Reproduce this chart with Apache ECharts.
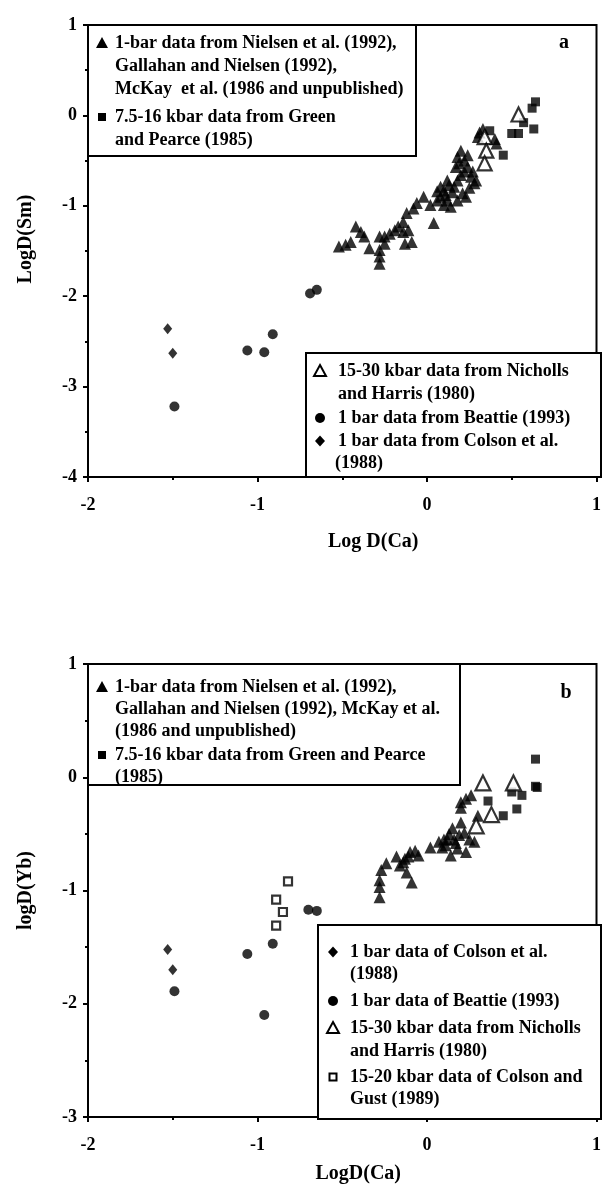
<!DOCTYPE html>
<html>
<head>
<meta charset="utf-8">
<script src="https://cdn.jsdelivr.net/npm/echarts@6/dist/echarts.min.js"></script>
<style>
  html, body { margin: 0; padding: 0; background: #fff; }
  #chart { width: 604px; height: 1185px; }
</style>
</head>
<body>
<div id="chart"></div>
<script>
// axis ranges
const xRange = [-2, 1]
const ySmRange = [-4, 1]
const yYbRange = [-3, 1]

// panel a : LogD(Sm) vs Log D(Ca)
const smNielsen = [
  [-0.52, -1.45], [-0.48, -1.43], [-0.45, -1.40], [-0.42, -1.23], [-0.39, -1.29], [-0.37, -1.34],
  [-0.34, -1.47], [-0.28, -1.34], [-0.28, -1.49], [-0.28, -1.56], [-0.28, -1.64], [-0.25, -1.34],
  [-0.25, -1.42], [-0.22, -1.31], [-0.19, -1.27], [-0.17, -1.23], [-0.14, -1.29], [-0.14, -1.18],
  [-0.13, -1.42], [-0.11, -1.27], [-0.09, -1.40], [-0.12, -1.08], [-0.08, -1.03], [-0.06, -0.97],
  [-0.02, -0.90], [0.02, -0.99], [0.04, -1.19], [0.06, -0.94], [0.06, -0.84], [0.08, -0.90],
  [0.08, -0.79], [0.10, -0.83], [0.10, -0.99], [0.11, -0.88], [0.12, -0.94], [0.12, -0.72],
  [0.13, -0.77], [0.14, -1.01], [0.15, -0.85], [0.16, -0.79], [0.18, -0.72], [0.18, -0.94],
  [0.17, -0.57], [0.18, -0.46], [0.19, -0.53], [0.20, -0.66], [0.20, -0.39], [0.21, -0.86],
  [0.22, -0.50], [0.22, -0.62], [0.23, -0.90], [0.24, -0.57], [0.24, -0.44], [0.25, -0.80],
  [0.26, -0.68], [0.27, -0.62], [0.28, -0.75], [0.29, -0.72], [0.30, -0.24], [0.31, -0.19],
  [0.33, -0.15], [0.40, -0.26], [0.41, -0.31]
]
const smGreen = [
  [0.64, 0.15], [0.62, 0.08], [0.63, -0.15], [0.57, -0.08], [0.50, -0.20], [0.54, -0.20],
  [0.45, -0.44], [0.37, -0.17]
]
const smNicholls = [[0.54, 0.01], [0.34, -0.24], [0.35, -0.39], [0.34, -0.53]]
const smBeattie = [[-1.49, -3.22], [-1.06, -2.60], [-0.96, -2.62], [-0.91, -2.42], [-0.69, -1.97], [-0.65, -1.93]]
const smColson = [[-1.53, -2.36], [-1.50, -2.63]]

// panel b : logD(Yb) vs LogD(Ca)
const ybNielsen = [
  [-0.28, -1.06], [-0.28, -0.97], [-0.28, -0.91], [-0.27, -0.82], [-0.24, -0.76], [-0.18, -0.70],
  [-0.16, -0.78], [-0.14, -0.75], [-0.13, -0.72], [-0.12, -0.84], [-0.11, -0.70], [-0.09, -0.93],
  [-0.10, -0.66], [-0.07, -0.65], [-0.05, -0.69], [0.02, -0.62], [0.07, -0.57], [0.09, -0.62],
  [0.10, -0.55], [0.11, -0.60], [0.12, -0.55], [0.13, -0.50], [0.14, -0.69], [0.15, -0.45],
  [0.16, -0.55], [0.17, -0.58], [0.18, -0.63], [0.19, -0.51], [0.20, -0.40], [0.20, -0.27],
  [0.20, -0.22], [0.22, -0.49], [0.23, -0.66], [0.23, -0.19], [0.25, -0.55], [0.26, -0.16],
  [0.28, -0.57], [0.30, -0.34]
]
const ybGreen = [
  [0.64, 0.16], [0.64, -0.08], [0.65, -0.09], [0.56, -0.16], [0.50, -0.13], [0.53, -0.28],
  [0.45, -0.34], [0.36, -0.21]
]
const ybNicholls = [[0.33, -0.05], [0.51, -0.05], [0.38, -0.33], [0.29, -0.43]]
const ybBeattie = [[-1.49, -1.89], [-1.06, -1.56], [-0.91, -1.47], [-0.96, -2.10], [-0.70, -1.17], [-0.65, -1.18]]
const ybColson = [[-1.53, -1.52], [-1.50, -1.70]]
const ybColsonGust = [[-0.82, -0.92], [-0.89, -1.08], [-0.85, -1.19], [-0.89, -1.31]]

const FONT = '"Liberation Serif", "Times New Roman", serif'

const chart = echarts.init(document.getElementById('chart'))

function xAxisOf(gridIndex, name, gap, shift) {
  return {
    gridIndex,
    type: 'value',
    min: xRange[0],
    max: xRange[1],
    interval: 1,
    name,
    nameLocation: 'middle',
    nameGap: gap,
    nameTextStyle: { color: '#000', fontFamily: FONT, fontWeight: 'bold', fontSize: 20, padding: [0, 0, 0, shift] },
    axisLine: { onZero: false, lineStyle: { color: '#000', width: 2 } },
    axisTick: { length: 5, lineStyle: { color: '#000', width: 2 } },
    minorTick: { show: true, splitNumber: 2, length: 3, lineStyle: { color: '#000', width: 2 } },
    splitLine: { show: false },
    axisLabel: { color: '#000', fontFamily: FONT, fontWeight: 'bold', fontSize: 18, margin: 19 }
  }
}

function yAxisOf(gridIndex, range, name, shift) {
  return {
    gridIndex,
    type: 'value',
    min: range[0],
    max: range[1],
    interval: 1,
    name,
    nameLocation: 'middle',
    nameGap: 52,
    nameTextStyle: { color: '#000', fontFamily: FONT, fontWeight: 'bold', fontSize: 20, padding: [0, 0, 0, shift] },
    axisLine: { onZero: false, lineStyle: { color: '#000', width: 2 } },
    axisTick: { length: 5, lineStyle: { color: '#000', width: 2 } },
    minorTick: { show: true, splitNumber: 2, length: 3, lineStyle: { color: '#000', width: 2 } },
    splitLine: { show: false },
    axisLabel: { color: '#000', fontFamily: FONT, fontWeight: 'bold', fontSize: 18, margin: 11 }
  }
}

function scatter(data, idx, symbol, size, open, z) {
  return {
    type: 'scatter',
    xAxisIndex: idx,
    yAxisIndex: idx,
    data,
    symbol,
    symbolSize: size,
    z,
    itemStyle: open
      ? { color: '#fff', borderColor: '#000', borderWidth: 2.2 }
      : { color: '#000' }
  }
}

// legend helpers (decoration only)
function markerShape(kind, cx, cy) {
  if (kind === 'tri' || kind === 'otri') {
    const s = 6
    return {
      type: 'polygon',
      shape: { points: [[cx, cy - s], [cx + s, cy + s - 1], [cx - s, cy + s - 1]] },
      style: kind === 'tri' ? { fill: '#000' } : { fill: '#fff', stroke: '#000', lineWidth: 2 }
    }
  }
  if (kind === 'sq') return { type: 'rect', shape: { x: cx - 4, y: cy - 4, width: 8, height: 8 }, style: { fill: '#000' } }
  if (kind === 'osq') return { type: 'rect', shape: { x: cx - 3.5, y: cy - 3.5, width: 7, height: 7 }, style: { fill: '#fff', stroke: '#000', lineWidth: 2 } }
  if (kind === 'dot') return { type: 'circle', shape: { cx, cy, r: 5 }, style: { fill: '#000' } }
  return {
    type: 'polygon',
    shape: { points: [[cx, cy - 5.5], [cx + 5, cy], [cx, cy + 5.5], [cx - 5, cy]] },
    style: { fill: '#000' }
  }
}

function legendBox(x, y, w, h, mx, tx, entries) {
  const els = [{
    type: 'rect',
    shape: { x, y, width: w, height: h },
    style: { fill: '#fff', stroke: '#000', lineWidth: 2 }
  }]
  entries.forEach((e) => {
    els.push(markerShape(e.kind, mx, e.lines[0][1]))
    e.lines.forEach(([t, ly], i) => {
      els.push({
        type: 'text',
        style: {
          text: t,
          x: i === 0 ? tx : (e.indent !== undefined ? e.indent : tx),
          y: ly,
          verticalAlign: 'middle',
          fill: '#000',
          font: 'bold 18px ' + FONT
        }
      })
    })
  })
  return els
}

const graphics = [].concat(
  legendBox(88, 25, 328, 131, 102, 115, [
    { kind: 'tri', lines: [['1-bar data from Nielsen et al. (1992),', 43], ['Gallahan and Nielsen (1992),', 66], ['McKay  et al. (1986 and unpublished)', 89]] },
    { kind: 'sq', lines: [['7.5-16 kbar data from Green', 117], ['and Pearce (1985)', 140]] }
  ]),
  legendBox(306, 353, 295, 124, 320, 338, [
    { kind: 'otri', lines: [['15-30 kbar data from Nicholls', 371], ['and Harris (1980)', 394]] },
    { kind: 'dot', lines: [['1 bar data from Beattie (1993)', 418]] },
    { kind: 'dia', indent: 335, lines: [['1 bar data from Colson et al.', 441], ['(1988)', 463]] }
  ]),
  legendBox(88, 664, 372, 121, 102, 115, [
    { kind: 'tri', lines: [['1-bar data from Nielsen et al. (1992),', 687], ['Gallahan and Nielsen (1992), McKay et al.', 709], ['(1986 and unpublished)', 731]] },
    { kind: 'sq', lines: [['7.5-16 kbar data from Green and Pearce', 755], ['(1985)', 777]] }
  ]),
  legendBox(318, 925, 283, 194, 333, 350, [
    { kind: 'dia', lines: [['1 bar data of Colson et al.', 952], ['(1988)', 974]] },
    { kind: 'dot', lines: [['1 bar data of Beattie (1993)', 1001]] },
    { kind: 'otri', lines: [['15-30 kbar data from Nicholls', 1028], ['and Harris (1980)', 1051]] },
    { kind: 'osq', lines: [['15-20 kbar data of Colson and', 1077], ['Gust (1989)', 1099]] }
  ]),
  [
    { type: 'text', style: { text: 'a', x: 564, y: 43, align: 'center', verticalAlign: 'middle', fill: '#000', font: 'bold 20px ' + FONT } },
    { type: 'text', style: { text: 'b', x: 566, y: 693, align: 'center', verticalAlign: 'middle', fill: '#000', font: 'bold 20px ' + FONT } }
  ]
)

const option = {
  animation: false,
  backgroundColor: '#fff',
  grid: [
    { left: 88, top: 25, width: 513, height: 452, show: true, borderColor: '#000', borderWidth: 2, backgroundColor: 'transparent' },
    { left: 88, top: 664, width: 513, height: 455, show: true, borderColor: '#000', borderWidth: 2, backgroundColor: 'transparent' }
  ],
  xAxis: [
    xAxisOf(0, 'Log D(Ca)', 55, 62),
    xAxisOf(1, 'LogD(Ca)', 47, 32)
  ],
  yAxis: [
    yAxisOf(0, ySmRange, 'LogD(Sm)', 24),
    yAxisOf(1, yYbRange, 'logD(Yb)', 0)
  ],
  graphic: graphics.map((g) => Object.assign({ z: 100 }, g)),
  series: [
    scatter(smNielsen, 0, 'triangle', 12, false, 2),
    scatter(smGreen, 0, 'rect', 9, false, 3),
    scatter(smNicholls, 0, 'triangle', 14, true, 4),
    scatter(smBeattie, 0, 'circle', 10, false, 3),
    scatter(smColson, 0, 'diamond', [9, 11], false, 3),
    scatter(ybNielsen, 1, 'triangle', 12, false, 2),
    scatter(ybGreen, 1, 'rect', 9, false, 3),
    scatter(ybNicholls, 1, 'triangle', 15, true, 4),
    scatter(ybBeattie, 1, 'circle', 10, false, 3),
    scatter(ybColson, 1, 'diamond', [9, 11], false, 3),
    scatter(ybColsonGust, 1, 'rect', 8, true, 4)
  ]
}

chart.setOption(option)
</script>
</body>
</html>
